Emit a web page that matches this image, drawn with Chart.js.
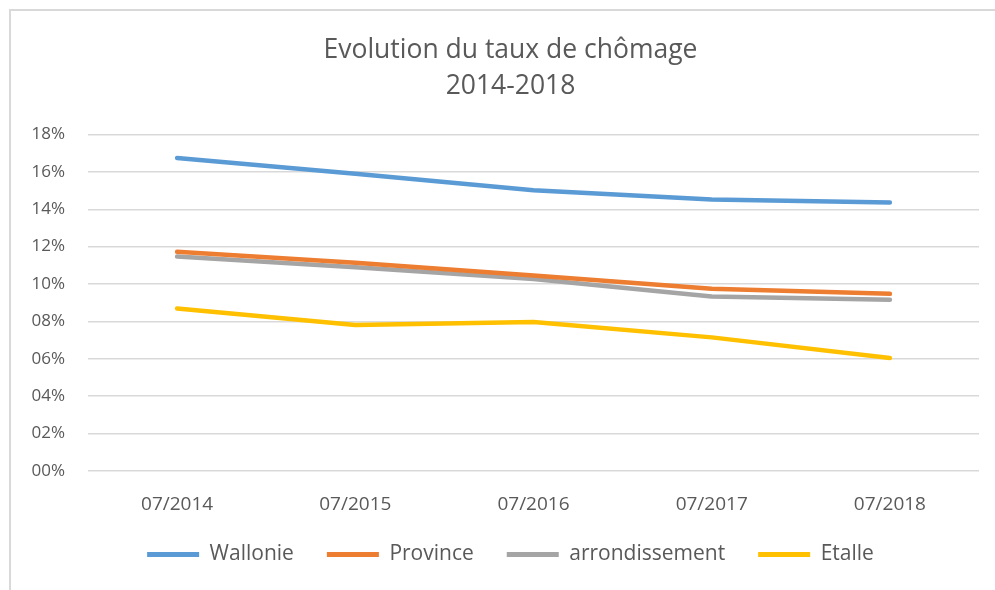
<!DOCTYPE html>
<html lang="fr">
<head>
<meta charset="utf-8">
<title>Evolution du taux de chômage 2014-2018</title>
<script src="https://cdn.jsdelivr.net/npm/chart.js@4"></script>
<style>
  html, body { margin: 0; padding: 0; background: #ffffff; }
  #wrap { position: relative; width: 995px; height: 590px; overflow: hidden; }
  #frame {
    position: absolute; left: 9px; top: 9px; width: 1100px; height: 700px;
    border-left: 2px solid #d9d9d9; border-top: 2px solid #d9d9d9;
    box-sizing: border-box;
  }
  canvas { position: absolute; left: 0; top: 0; }
</style>
</head>
<body>
<div id="wrap">
  <div id="frame"></div>
  <canvas id="chart" width="995" height="590"></canvas>
</div>
<script>
// Categories (mois/année)
const periods = ['07/2014', '07/2015', '07/2016', '07/2017', '07/2018'];

// Taux de chômage (%)
const wallonie       = [16.75, 15.9, 15.02, 14.52, 14.36];
const province       = [11.72, 11.13, 10.45, 9.75, 9.47];
const arrondissement = [11.47, 10.9, 10.27, 9.33, 9.16];
const etalle         = [8.69, 7.8, 7.96, 7.14, 6.03];

// Axe des ordonnées
const yTicks = [0, 2, 4, 6, 8, 10, 12, 14, 16, 18];

const titleLines = ['Evolution du taux de chômage', '2014-2018'];

const seriesNames  = ['Wallonie', 'Province', 'arrondissement', 'Etalle'];
const seriesColors = ['#5b9bd5', '#ed7d31', '#a5a5a5', '#ffc000'];
const seriesValues = [wallonie, province, arrondissement, etalle];

const FONT = "'Open Sans', 'Lato', sans-serif";
const TEXT = '#595959';

// The framed chart box extends past the right edge, so the title and the
// legend are centred on that wider box rather than on the canvas.
const centreShift = {
  id: 'centreShift',
  afterLayout(chart) {
    const dx = 21;
    [chart.titleBlock, chart.legend].forEach(box => {
      if (box) { box.left += dx; box.right += dx; }
    });
  }
};

const datasets = seriesNames.map((name, i) => ({
  label: name,
  data: seriesValues[i],
  borderColor: seriesColors[i],
  backgroundColor: seriesColors[i],
  borderWidth: 4.5,
  borderCapStyle: 'round',
  borderJoinStyle: 'round',
  pointRadius: 0,
  pointHoverRadius: 0,
  tension: 0,
  fill: false
}));

new Chart(document.getElementById('chart'), {
  type: 'line',
  data: { labels: periods, datasets },
  plugins: [centreShift],
  options: {
    responsive: false,
    animation: false,
    events: [],
    layout: { padding: { left: 0, right: 16, top: 0, bottom: 15 } },
    plugins: {
      title: {
        display: true,
        text: titleLines,
        color: TEXT,
        font: { family: FONT, size: 26.5, weight: 'normal', lineHeight: 1.36 },
        padding: { top: 32, bottom: 30.5 }
      },
      legend: {
        display: true,
        position: 'bottom',
        labels: {
          color: TEXT,
          font: { family: FONT, size: 21 },
          boxWidth: 52,
          boxHeight: 5,
          padding: 33,
          useBorderRadius: true,
          borderRadius: 2.5,
          generateLabels(chart) {
            return chart.data.datasets.map((ds, i) => ({
              text: ds.label,
              fillStyle: ds.borderColor,
              strokeStyle: ds.borderColor,
              lineWidth: 0,
              hidden: false,
              datasetIndex: i,
              fontColor: TEXT
            }));
          }
        }
      },
      tooltip: { enabled: false }
    },
    scales: {
      x: {
        offset: true,
        afterFit(scale) { scale.height = scale.height - 26.5; },
        grid: { display: false, drawTicks: false },
        border: { display: false },
        ticks: {
          color: TEXT,
          font: { family: FONT, size: 19 },
          padding: 22,
          maxRotation: 0
        }
      },
      y: {
        min: 0,
        max: 18,
        afterFit(scale) { scale.width = 88; },
        afterBuildTicks(scale) { scale.ticks = yTicks.map(v => ({ value: v })); },
        grid: { color: '#d9d9d9', lineWidth: 1.5, drawTicks: false },
        border: { display: false },
        ticks: {
          color: TEXT,
          font: { family: FONT, size: 17 },
          padding: 23,
          callback: v => String(v).padStart(2, '0') + '%'
        }
      }
    }
  }
});
</script>
</body>
</html>
